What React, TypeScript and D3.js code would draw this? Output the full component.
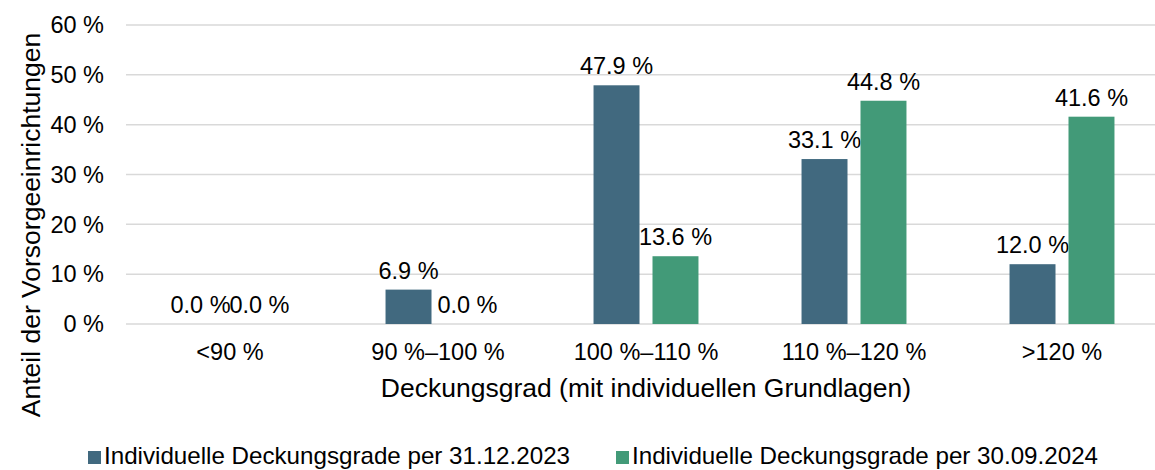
import { useMemo } from "react";
import * as d3 from "d3";

const categories = ["<90 %", "90 %–100 %", "100 %–110 %", "110 %–120 %", ">120 %"];
const series2023 = [0.0, 6.9, 47.9, 33.1, 12.0];
const series2024 = [0.0, 0.0, 13.6, 44.8, 41.6];
const seriesNames = [
  "Individuelle Deckungsgrade per 31.12.2023",
  "Individuelle Deckungsgrade per 30.09.2024",
];
const yTicks = [0, 10, 20, 30, 40, 50, 60];

const WIDTH = 1155;
const HEIGHT = 470;
const MARGIN = { top: 25, right: -11, bottom: 146, left: 126 };
const COLORS = ["#41697f", "#429a78"];
const FONT = "'Liberation Sans', Arial, sans-serif";

const fmt = (v: number) => `${v.toFixed(1)} %`;

export default function App() {
  const boundsWidth = WIDTH - MARGIN.left - MARGIN.right;
  const boundsHeight = HEIGHT - MARGIN.top - MARGIN.bottom;

  const xScale = useMemo(
    () => d3.scaleBand<string>().domain(categories).range([0, boundsWidth]).paddingInner(0).paddingOuter(0),
    [boundsWidth]
  );
  const yScale = useMemo(
    () => d3.scaleLinear().domain([0, 60]).range([boundsHeight, 0]),
    [boundsHeight]
  );
  // two bars per group, 46px wide with a 13px gap
  const barWidth = xScale.bandwidth() * 0.221;
  const gap = xScale.bandwidth() * 0.0625;
  const xSub = (i: number) => (i === 0 ? -gap / 2 - barWidth : gap / 2);

  const allSeries = [series2023, series2024];

  return (
    <svg width={WIDTH} height={HEIGHT} style={{ position: "absolute", left: 0, top: 0, overflow: "hidden" }} fontFamily={FONT}>
      <rect width={WIDTH} height={HEIGHT} fill="#fff" />
      <g transform={`translate(${MARGIN.left}, ${MARGIN.top})`}>
        {yTicks.map((t) => (
          <g key={t}>
            <line x1={0} x2={boundsWidth} y1={yScale(t)} y2={yScale(t)} stroke="#d9d9d9" strokeWidth={1.5} />
            <text x={-22} y={yScale(t)} dy="0.35em" textAnchor="end" fontSize={23.5} fill="#000">
              {`${t} %`}
            </text>
          </g>
        ))}

        {categories.map((c, ci) => {
          const cx = xScale(c)! + xScale.bandwidth() / 2;
          return (
            <g key={c}>
              {allSeries.map((s, si) => {
                const x = cx + xSub(si);
                const y = yScale(s[ci]);
                return (
                  <g key={si}>
                    <rect x={x} y={y} width={barWidth} height={boundsHeight - y} fill={COLORS[si]} />
                    <text x={x + barWidth / 2} y={y - 11} textAnchor="middle" fontSize={23.5} fill="#000">
                      {fmt(s[ci])}
                    </text>
                  </g>
                );
              })}
              <text x={cx} y={boundsHeight + 36} textAnchor="middle" fontSize={23.5} fill="#000">
                {c}
              </text>
            </g>
          );
        })}
      </g>

      {/* axis titles */}
      <text x={646} y={397} textAnchor="middle" fontSize={26.5} fill="#000">
        Deckungsgrad (mit individuellen Grundlagen)
      </text>
      <text transform="translate(40, 225) rotate(-90)" textAnchor="middle" fontSize={26.5} fill="#000">
        Anteil der Vorsorgeeinrichtungen
      </text>

      {/* legend */}
      {seriesNames.map((n, i) => {
        const lx = i === 0 ? 88 : 616;
        return (
          <g key={n}>
            <rect x={lx} y={451} width={13} height={13} fill={COLORS[i]} />
            <text x={lx + 16} y={464} fontSize={24} fill="#000" textLength={466} lengthAdjust="spacingAndGlyphs">
              {n}
            </text>
          </g>
        );
      })}
    </svg>
  );
}
